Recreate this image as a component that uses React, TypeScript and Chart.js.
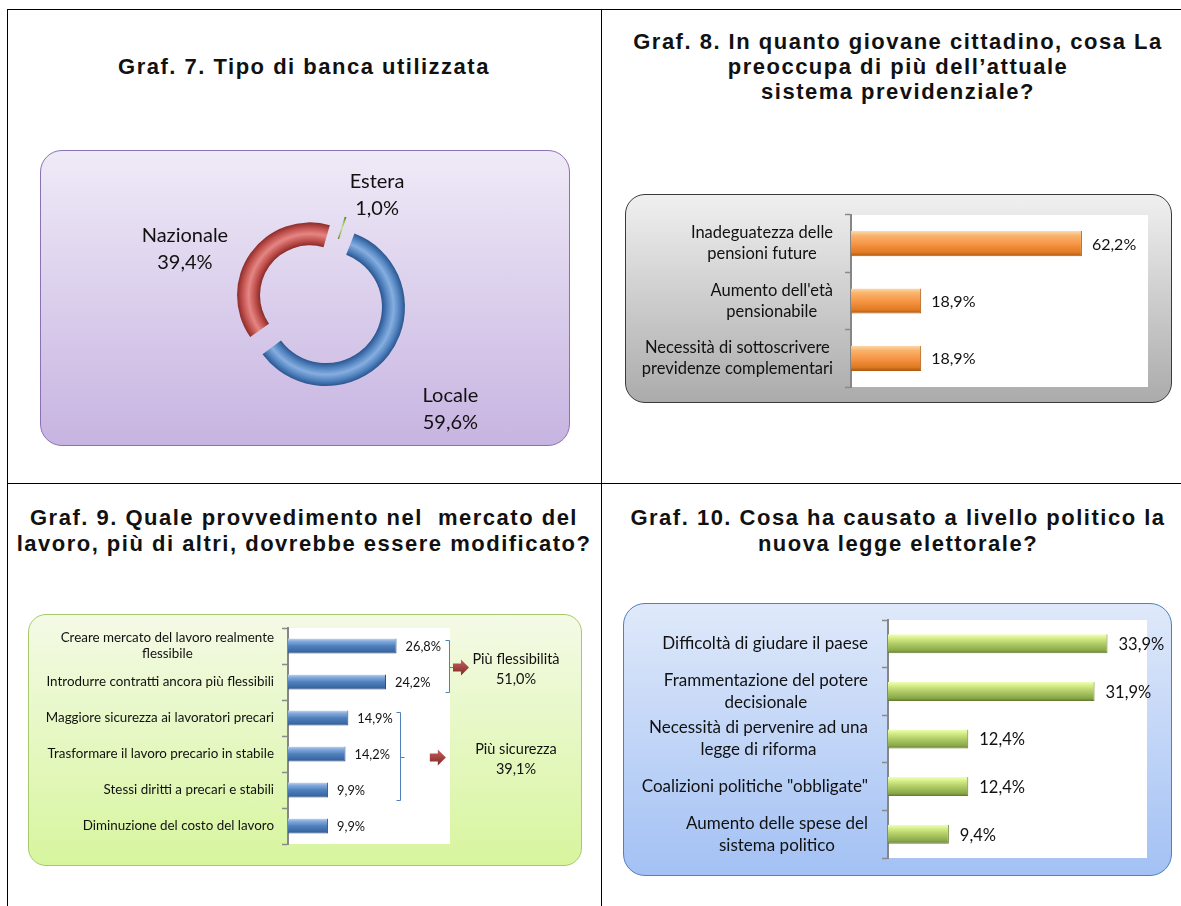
import React, { useEffect, useRef } from "react";
import { Chart, registerables } from "chart.js";

Chart.register(...registerables);
Chart.defaults.font.family = "Lato, 'Open Sans', sans-serif";

// ---------- Graf. 7 ----------
const bankTypes = ["Locale", "Nazionale", "Estera"];
const bankShares = [59.6, 39.4, 1.0];

// ---------- Graf. 8 ----------
const pensionConcerns = [
  ["Inadeguatezza delle", "pensioni future"],
  ["Aumento dell'età", "pensionabile"],
  ["Necessità di sottoscrivere", "previdenze complementari"],
];
const pensionShares = [62.2, 18.9, 18.9];

// ---------- Graf. 9 ----------
const laborMeasures = [
  ["Creare mercato del lavoro realmente", "flessibile"],
  ["Introdurre contratti ancora più flessibili"],
  ["Maggiore sicurezza ai lavoratori precari"],
  ["Trasformare il lavoro precario in stabile"],
  ["Stessi diritti a precari e stabili"],
  ["Diminuzione del costo del lavoro"],
];
const laborShares = [26.8, 24.2, 14.9, 14.2, 9.9, 9.9];
const laborGroupNames = ["Più flessibilità", "Più sicurezza"];
const laborGroupTotals = [51.0, 39.1];
const laborGroupFirst = [0, 2];
const laborGroupLast = [1, 4];

// ---------- Graf. 10 ----------
const electoralEffects = [
  ["Difficoltà di giudare il paese"],
  ["Frammentazione del potere", "decisionale"],
  ["Necessità di pervenire ad una", "legge di riforma"],
  ['Coalizioni politiche "obbligate"'],
  ["Aumento delle spese del", "sistema politico"],
];
const electoralShares = [33.9, 31.9, 12.4, 12.4, 9.4];

const pct = (v: number) => v.toFixed(1).replace(".", ",") + "%";

// ---------- plugins ----------
const whiteArea = {
  id: "whiteArea",
  beforeDraw(chart: any) {
    const { ctx, chartArea: a } = chart;
    if (!a) return;
    ctx.save();
    ctx.fillStyle = "#ffffff";
    ctx.fillRect(a.left, a.top, a.right - a.left, a.bottom - a.top);
    ctx.restore();
  },
};

const catLabels = {
  id: "catLabels",
  afterDraw(chart: any, _a: any, o: any) {
    const { ctx, chartArea } = chart;
    const ys = chart.scales.y;
    const labels = chart.data.labels as string[][];
    ctx.save();
    ctx.font = `${o.size}px Lato`;
    ctx.fillStyle = "#111";
    ctx.textAlign = "center";
    ctx.textBaseline = "middle";
    labels.forEach((lines, i) => {
      const y = ys.getPixelForValue(i);
      const w = Math.max(...lines.map((l) => ctx.measureText(l).width));
      const cx = chartArea.left - o.gap - w / 2;
      const y0 = y - ((lines.length - 1) * o.lineHeight) / 2;
      lines.forEach((l, j) => ctx.fillText(l, cx, y0 + j * o.lineHeight));
    });
    ctx.restore();
  },
};

const valueLabels = {
  id: "valueLabels",
  afterDatasetsDraw(chart: any, _a: any, o: any) {
    const { ctx } = chart;
    const meta = chart.getDatasetMeta(0);
    const data = chart.data.datasets[0].data as number[];
    ctx.save();
    ctx.font = `${o.size}px Lato`;
    ctx.fillStyle = "#111";
    ctx.textAlign = "left";
    ctx.textBaseline = "middle";
    meta.data.forEach((el: any, i: number) => ctx.fillText(pct(data[i]), el.x + o.gap, el.y + 1));
    ctx.restore();
  },
};

const groupBrackets = {
  id: "groupBrackets",
  afterDatasetsDraw(chart: any, _a: any, o: any) {
    const { ctx, chartArea } = chart;
    const meta = chart.getDatasetMeta(0);
    const ys = chart.scales.y;
    const n = chart.data.labels.length;
    const thick = (ys.height / n) * o.barPct;
    laborGroupNames.forEach((name, g) => {
      const els = meta.data.slice(laborGroupFirst[g], laborGroupLast[g] + 1);
      const top = Math.round(Math.min(...els.map((e: any) => e.y)) - thick / 2 + 2) + 0.5;
      const bottom = Math.round(Math.max(...els.map((e: any) => e.y)) + thick / 2 + 2) + 0.5;
      const bx = Math.round(Math.max(...els.map((e: any) => e.x)) + o.bracketGap) + 0.5;
      const mid = Math.round((top + bottom) / 2) + 0.5;
      ctx.save();
      ctx.strokeStyle = "#4F81BD";
      ctx.lineWidth = 1;
      ctx.beginPath();
      ctx.moveTo(bx - 4, top);
      ctx.lineTo(bx, top);
      ctx.lineTo(bx, bottom);
      ctx.lineTo(bx - 4, bottom);
      ctx.moveTo(bx, mid);
      ctx.lineTo(bx + 4, mid);
      ctx.stroke();
      ctx.font = `${o.size}px Lato`;
      ctx.fillStyle = "#111";
      ctx.textAlign = "center";
      ctx.textBaseline = "middle";
      const tx = chartArea.right + o.textOffset;
      ctx.fillText(name, tx, mid - 8);
      ctx.fillText(pct(laborGroupTotals[g]), tx, mid + 12);
      const textLeft = tx - ctx.measureText(name).width / 2;
      const ac = (bx + textLeft) / 2;
      const grad = ctx.createLinearGradient(0, mid - 8, 0, mid + 8);
      grad.addColorStop(0, "#C9605C");
      grad.addColorStop(1, "#7E2826");
      ctx.fillStyle = grad;
      ctx.beginPath();
      ctx.moveTo(ac - 8, mid - 4);
      ctx.lineTo(ac, mid - 4);
      ctx.lineTo(ac, mid - 8);
      ctx.lineTo(ac + 8, mid);
      ctx.lineTo(ac, mid + 8);
      ctx.lineTo(ac, mid + 4);
      ctx.lineTo(ac - 8, mid + 4);
      ctx.closePath();
      ctx.fill();
      ctx.restore();
    });
  },
};

const donutLabels = {
  id: "donutLabels",
  afterDraw(chart: any, _a: any, o: any) {
    const { ctx } = chart;
    const meta = chart.getDatasetMeta(0);
    const data = chart.data.datasets[0].data as number[];
    ctx.save();
    ctx.font = `${o.size}px Lato`;
    ctx.fillStyle = "#111";
    ctx.textAlign = "center";
    ctx.textBaseline = "middle";
    meta.data.forEach((arc: any, i: number) => {
      const p = arc.getProps(["x", "y", "startAngle", "endAngle", "outerRadius"], true);
      const pl = o.placement[i];
      const ang = (p.startAngle + p.endAngle) / 2 + (pl.shift * Math.PI) / 180;
      const r = p.outerRadius + pl.extra;
      const lx = p.x + Math.cos(ang) * r;
      const ly = p.y + Math.sin(ang) * r;
      ctx.fillText(String(chart.data.labels[i]), lx, ly - o.lineHeight / 2);
      ctx.fillText(pct(data[i]), lx, ly + o.lineHeight / 2);
    });
    ctx.restore();
  },
};

// ---------- helpers ----------
type Stops = [number, string][];

function barGradient(stops: Stops, barPct: number) {
  return (c: any) => {
    const chart = c.chart;
    if (!chart.chartArea || c.dataIndex === undefined) return stops[2][1];
    const ys = chart.scales.y;
    const n = chart.data.labels.length;
    const yc = ys.getPixelForValue(c.dataIndex);
    const h = (ys.height / n) * barPct;
    const g = chart.ctx.createLinearGradient(0, yc - h / 2, 0, yc + h / 2);
    stops.forEach(([o, col]) => g.addColorStop(o, col));
    return g;
  };
}

interface BarSpec {
  labels: string[][];
  values: number[];
  max: number;
  barPct: number;
  stops: Stops;
  border: string;
  pad: { top: number; right: number; bottom: number };
  axisWidth: number;
  labelSize: number;
  labelLineHeight: number;
  labelGap: number;
  valueSize: number;
  valueGap: number;
  extraPlugins?: any[];
  extraPluginOptions?: any;
}

function barConfig(s: BarSpec): any {
  return {
    type: "bar",
    data: {
      labels: s.labels,
      datasets: [
        {
          data: s.values,
          backgroundColor: barGradient(s.stops, s.barPct),
          borderColor: s.border,
          borderWidth: { top: 0, right: 1, bottom: 1, left: 0 },
          borderSkipped: false,
          barPercentage: s.barPct,
          categoryPercentage: 1,
        },
      ],
    },
    options: {
      indexAxis: "y",
      responsive: false,
      animation: false,
      devicePixelRatio: 1,
      layout: { padding: { left: 0, top: s.pad.top, right: s.pad.right, bottom: s.pad.bottom } },
      scales: {
        x: { display: false, min: 0, max: s.max },
        y: {
          grid: {
            display: true,
            drawOnChartArea: false,
            drawTicks: true,
            tickLength: 6,
            offset: true,
            color: "#8a8a8a",
            tickColor: "#8a8a8a",
            tickWidth: 1.5,
          },
          border: { display: true, color: "#868686", width: 2 },
          ticks: { display: false },
          afterFit: (sc: any) => {
            sc.width = s.axisWidth;
          },
        },
      },
      plugins: {
        legend: { display: false },
        tooltip: { enabled: false },
        catLabels: { size: s.labelSize, lineHeight: s.labelLineHeight, gap: s.labelGap },
        valueLabels: { size: s.valueSize, gap: s.valueGap },
        ...(s.extraPluginOptions || {}),
      },
    },
    plugins: [whiteArea, catLabels, valueLabels, ...(s.extraPlugins || [])],
  };
}

const donutOffset = 40;
const donutRotation = 20;
const donutCutout = 0.667;
const ringColors: [string, string, string][] = [
  ["#2A5590", "#4F81BD", "#86AEE0"],
  ["#8A2C29", "#C0504D", "#E58683"],
  ["#5F7D2A", "#9BBB59", "#C9E08E"],
];

function ringGradient(c: any) {
  const chart = c.chart;
  const a = chart.chartArea;
  const i = c.dataIndex;
  if (!a || i === undefined) return ringColors[i ?? 0][1];
  const total = bankShares.reduce((x, y) => x + y, 0);
  const circ = (2 * Math.PI * bankShares[i]) / total;
  const radiusOffset = (donutOffset / 4) * (1 - Math.sin(Math.min(Math.PI, circ)));
  const cx = (a.left + a.right) / 2;
  const cy = (a.top + a.bottom) / 2;
  const baseOuter = (Math.min(a.right - a.left, a.bottom - a.top) - donutOffset) / 2;
  const outer = baseOuter + radiusOffset;
  const inner = baseOuter * donutCutout + radiusOffset;
  const g = chart.ctx.createRadialGradient(cx, cy, inner, cx, cy, outer);
  const [dark, base, light] = ringColors[i];
  g.addColorStop(0, dark);
  g.addColorStop(0.22, base);
  g.addColorStop(0.5, light);
  g.addColorStop(0.78, base);
  g.addColorStop(1, dark);
  return g;
}

function donutConfig(): any {
  return {
    type: "doughnut",
    data: {
      labels: bankTypes,
      datasets: [
        {
          data: bankShares,
          backgroundColor: ringGradient,
          borderWidth: 0,
          offset: donutOffset,
        },
      ],
    },
    options: {
      responsive: false,
      animation: false,
      devicePixelRatio: 1,
      rotation: donutRotation,
      cutout: `${donutCutout * 100}%`,
      layout: { padding: { left: 189, top: 62, right: 163, bottom: 56 } },
      plugins: {
        legend: { display: false },
        tooltip: { enabled: false },
        donutLabels: {
          size: 20,
          lineHeight: 27,
          placement: [
            { shift: 2, extra: 102 },
            { shift: -14, extra: 74 },
            { shift: 11, extra: 52 },
          ],
        },
      },
    },
    plugins: [donutLabels],
  };
}

// ---------- components ----------
function ChartCanvas(props: { left: number; top: number; width: number; height: number; make: () => any }) {
  const ref = useRef<HTMLCanvasElement>(null);
  useEffect(() => {
    const chart = new Chart(ref.current as HTMLCanvasElement, props.make());
    return () => chart.destroy();
  }, []);
  return (
    <canvas
      ref={ref}
      width={props.width}
      height={props.height}
      style={{ position: "absolute", left: props.left, top: props.top, width: props.width, height: props.height }}
    />
  );
}

function Box(props: { left: number; top: number; width: number; height: number; border: string; bg: string; radius: number }) {
  return (
    <div
      style={{
        position: "absolute",
        left: props.left,
        top: props.top,
        width: props.width,
        height: props.height,
        boxSizing: "border-box",
        border: `1.5px solid ${props.border}`,
        borderRadius: props.radius,
        background: props.bg,
      }}
    />
  );
}

function Title(props: { left: number; width: number; top: number; lineHeight: number; lines: string[] }) {
  return (
    <div
      style={{
        position: "absolute",
        left: props.left,
        width: props.width,
        top: props.top,
        textAlign: "center",
        fontFamily: "'Liberation Sans', Arial, sans-serif",
        fontWeight: "bold",
        fontSize: 22,
        letterSpacing: 1.5,
        lineHeight: `${props.lineHeight}px`,
        color: "#111",
        whiteSpace: "pre",
      }}
    >
      {props.lines.map((l, i) => (
        <div key={i}>{l}</div>
      ))}
    </div>
  );
}

const line = (left: number, top: number, width: number, height: number) => (
  <div style={{ position: "absolute", left, top, width, height, background: "#000" }} />
);

export default function App() {
  return (
    <div style={{ position: "absolute", left: 0, top: 0, width: 1181, height: 906, overflow: "hidden", background: "#fff" }}>
      {line(7, 9, 1200, 1)}
      {line(7, 9, 1, 900)}
      {line(601, 9, 1, 900)}
      {line(7, 483, 1200, 1)}

      <Title left={7} width={594} top={54} lineHeight={25} lines={["Graf. 7. Tipo di banca utilizzata"]} />
      <Title
        left={601}
        width={594}
        top={29}
        lineHeight={25}
        lines={["Graf. 8. In quanto giovane cittadino, cosa La", "preoccupa di più dell’attuale", "sistema previdenziale?"]}
      />
      <Title
        left={7}
        width={594}
        top={505}
        lineHeight={26}
        lines={["Graf. 9. Quale provvedimento nel  mercato del", "lavoro, più di altri, dovrebbe essere modificato?"]}
      />
      <Title
        left={601}
        width={594}
        top={505}
        lineHeight={26}
        lines={["Graf. 10. Cosa ha causato a livello politico la", "nuova legge elettorale?"]}
      />

      <Box left={40} top={150} width={530} height={296} border="#8A72B2" radius={22} bg="linear-gradient(#EFEAF7, #C7B4E1)" />
      <ChartCanvas left={40} top={150} width={530} height={296} make={donutConfig} />

      <Box left={625} top={194} width={547} height={209} border="#3a3a3a" radius={20} bg="linear-gradient(#F0F0F0, #ABABAB)" />
      <ChartCanvas
        left={625}
        top={194}
        width={547}
        height={209}
        make={() =>
          barConfig({
            labels: pensionConcerns,
            values: pensionShares,
            max: 80,
            barPct: 0.44,
            stops: [
              [0, "#FDD9AE"],
              [0.18, "#F9B46C"],
              [0.5, "#F79646"],
              [0.85, "#E07A22"],
              [1, "#A8560F"],
            ],
            border: "#B05C14",
            pad: { top: 21, right: 24, bottom: 16 },
            axisWidth: 226,
            labelSize: 16.5,
            labelLineHeight: 21,
            labelGap: 18,
            valueSize: 16,
            valueGap: 10,
          })
        }
      />

      <Box left={28} top={614} width={554} height={252} border="#A7C96B" radius={18} bg="linear-gradient(#F4FAE6, #D7F59E)" />
      <ChartCanvas
        left={28}
        top={614}
        width={554}
        height={252}
        make={() =>
          barConfig({
            labels: laborMeasures,
            values: laborShares,
            max: 40,
            barPct: 0.42,
            stops: [
              [0, "#C3D7F1"],
              [0.18, "#86ABDD"],
              [0.5, "#4F81BD"],
              [0.85, "#3A69A5"],
              [1, "#23487A"],
            ],
            border: "#27508A",
            pad: { top: 14, right: 132, bottom: 22 },
            axisWidth: 260,
            labelSize: 13.4,
            labelLineHeight: 16,
            labelGap: 14,
            valueSize: 12.8,
            valueGap: 9,
            extraPlugins: [groupBrackets],
            extraPluginOptions: { groupBrackets: { barPct: 0.42, bracketGap: 52, textOffset: 66, size: 14.5 } },
          })
        }
      />

      <Box left={623} top={603} width={549} height={273} border="#4F81BD" radius={22} bg="linear-gradient(#DFE9FA, #A3C1F4)" />
      <ChartCanvas
        left={623}
        top={603}
        width={549}
        height={273}
        make={() =>
          barConfig({
            labels: electoralEffects,
            values: electoralShares,
            max: 40,
            barPct: 0.4,
            stops: [
              [0, "#F1FFB8"],
              [0.18, "#D9F08C"],
              [0.5, "#B0CC66"],
              [0.85, "#8AA84A"],
              [1, "#5E7A2E"],
            ],
            border: "#66802F",
            pad: { top: 17, right: 25, bottom: 18 },
            axisWidth: 265,
            labelSize: 17,
            labelLineHeight: 22,
            labelGap: 20,
            valueSize: 16.5,
            valueGap: 11,
          })
        }
      />
    </div>
  );
}
